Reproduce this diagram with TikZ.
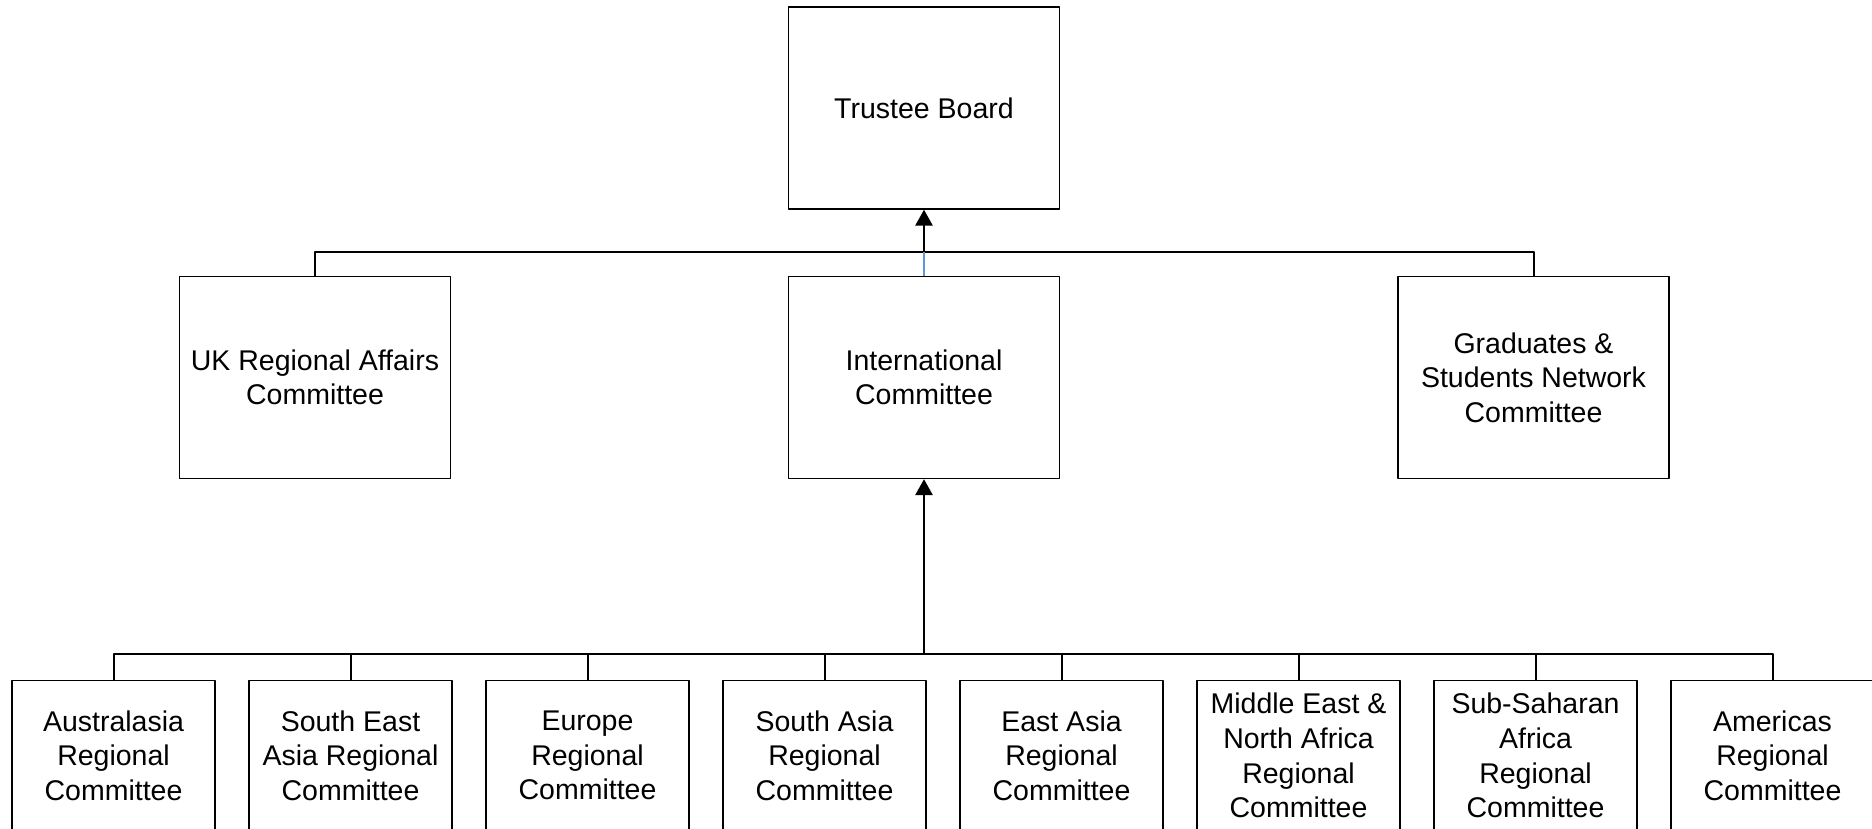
\documentclass[tikz,border=0pt]{standalone}
\usepackage{fontspec}
\setmainfont{Liberation Sans}
\usetikzlibrary{arrows.meta}
\definecolor{linkblue}{RGB}{91,155,213}
\begin{document}
\begin{tikzpicture}[x=0.5pt, y=-0.5pt, line join=round, >={Triangle[length=8pt,width=8.5pt]},
		font=\fontsize{14.25}{17.3}\selectfont,
		unit/.style={draw, line width=0.65pt, align=center, inner sep=2pt},
		bigunit/.style={unit, minimum width=135.5pt, minimum height=101pt},
		regunit/.style={unit, anchor=north, minimum width=101.5pt, minimum height=75pt},
		link/.style={line width=1pt}]
	\useasboundingbox (0,0) rectangle (1872,829);
	% board and standing committees
	\node[bigunit] (trustee) at (924,108) {Trustee Board};
	\node[bigunit] (ukrac) at (315,377.5) {UK Regional Affairs\\Committee};
	\node[bigunit] (intl) at (924,377.5) {International\\Committee};
	\node[bigunit] (gsnc) at (1533.5,377.5) {Graduates \&\\Students Network\\Committee};
	\coordinate (topbus) at (924,252);
	\draw[link] (ukrac.north) |- (topbus) -| (gsnc.north);
	\draw[link, linkblue] (intl.north) -- (topbus);
	\draw[link, line width=1.3pt, ->] (topbus) -- (trustee.south);
	% regional committees
	\foreach \i/\txt in {1/{Australasia\\Regional\\Committee},
			2/{South East\\Asia Regional\\Committee},
			3/{Europe\\Regional\\Committee},
			4/{South Asia\\Regional\\Committee},
			5/{East Asia\\Regional\\Committee},
			6/{Middle East \&\\North Africa\\Regional\\Committee},
			7/{Sub-Saharan\\Africa\\Regional\\Committee},
			8/{Americas\\Regional\\Committee}}
		\node[regunit] (reg\i) at ({113.5+237*(\i-1)},680) {\txt};
	\coordinate (lowbus) at (924,654);
	\draw[link] (reg1.north) |- (lowbus) -| (reg8.north);
	\foreach \i in {2,...,7}
		\draw[link] (reg\i.north) -- ++(0,-26);
	\draw[link, line width=1.4pt, ->] (lowbus) -- (intl.south);
\end{tikzpicture}
\end{document}
